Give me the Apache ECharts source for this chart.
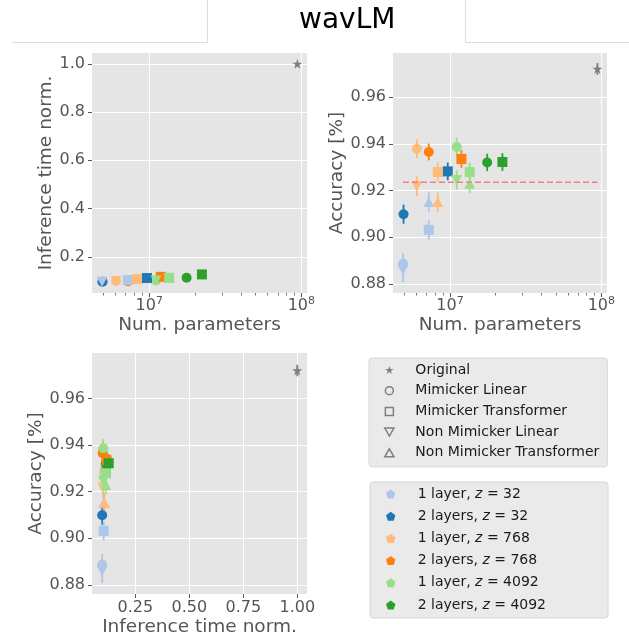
<!DOCTYPE html>
<html>
<head>
<meta charset="utf-8">
<title>wavLM</title>
<script src="https://cdn.jsdelivr.net/npm/echarts@6/dist/echarts.min.js"></script>
<style>
  html, body { margin: 0; padding: 0; background: #fff; }
  #chart { width: 629px; height: 643px; }
</style>
</head>
<body>
<div id="chart"></div>
<script>
// colour groups
const groupNames = ['1 layer, z = 32', '2 layers, z = 32', '1 layer, z = 768', '2 layers, z = 768', '1 layer, z = 4092', '2 layers, z = 4092'];
const groupColors = ['#aec7e8', '#1f77b4', '#ffbb78', '#ff7f0e', '#98df8a', '#2ca02c'];

// Mimicker Linear
const mlParams = [4.89e6, 4.93e6, 6.04e6, 7.24e6, 1.107e7, 1.76e7];
const mlTime = [0.097, 0.0966, 0.0995, 0.099, 0.102, 0.113];
const mlAcc = [0.8887, 0.9099, 0.9379, 0.9365, 0.9386, 0.9320];
const mlErr = [0.0046, 0.0041, 0.0040, 0.0036, 0.0040, 0.0037];

// Mimicker Transformer
const mtParams = [7.24e6, 9.66e6, 8.30e6, 1.19e7, 1.35e7, 2.22e7];
const mtTime = [0.1036, 0.112, 0.1077, 0.117, 0.113, 0.127];
const mtAcc = [0.9032, 0.9282, 0.9279, 0.9335, 0.9279, 0.9322];
const mtErr = [0.0042, 0.0038, 0.0040, 0.0038, 0.0040, 0.0038];

// Non Mimicker Linear (1 layer only)
const nlParams = [4.89e6, null, 6.04e6, null, 1.107e7, null];
const nlTime = [0.0966, null, 0.0995, null, 0.102, null];
const nlAcc = [0.8860, null, 0.9218, null, 0.9245, null];
const nlErr = [0.0052, null, 0.0042, null, 0.0042, null];

// Non Mimicker Transformer (1 layer only)
const ntParams = [7.24e6, null, 8.30e6, null, 1.35e7, null];
const ntTime = [0.1036, null, 0.1077, null, 0.113, null];
const ntAcc = [0.9151, null, 0.9151, null, 0.9229, null];
const ntErr = [0.0042, null, 0.0042, null, 0.0040, null];

// Original model
const origParams = 9.42e7;
const origTime = 1.0;
const origAcc = 0.972;
const origErr = 0.0025;

// dashed reference line
const baselineAcc = 0.9235;
const baselineFrom = 4.89e6;
const baselineTo = 9.42e7;

// ticks
const paramTicks = [1e7, 1e8];
const paramMinorTicks = [5e6, 6e6, 7e6, 8e6, 9e6, 2e7, 3e7, 4e7, 5e7, 6e7, 7e7, 8e7, 9e7];
const timeTicks = [0.2, 0.4, 0.6, 0.8, 1.0];
const timeXTicks = [0.25, 0.5, 0.75, 1.0];
const accTicks = [0.88, 0.90, 0.92, 0.94, 0.96];

const FONT = 'DejaVu Sans';
const GREY = '#555555';
const STAR = 'path://M100,0 L122.5,69.1 L195.1,69.1 L136.3,111.8 L158.8,180.9 L100,138.2 L41.2,180.9 L63.7,111.8 L4.9,69.1 L77.5,69.1 Z';
const PENTA = 'path://M100,0 L195.1,69.1 L158.8,180.9 L41.2,180.9 L4.9,69.1 Z';
const SQUARE = 'path://M0,0 L10,0 L10,10 L0,10 Z';
const TRI_DOWN = 'path://M0,0 L10,0 L5,8.66 Z';
const TRI_UP = 'path://M5,0 L10,8.66 L0,8.66 Z';

const types = [
  { name: 'Mimicker Linear', symbol: 'circle', size: 10, params: mlParams, time: mlTime, acc: mlAcc, err: mlErr },
  { name: 'Mimicker Transformer', symbol: 'rect', size: 10, params: mtParams, time: mtTime, acc: mtAcc, err: mtErr },
  { name: 'Non Mimicker Linear', symbol: TRI_DOWN, size: [11, 10], params: nlParams, time: nlTime, acc: nlAcc, err: nlErr },
  { name: 'Non Mimicker Transformer', symbol: TRI_UP, size: [11, 10], params: ntParams, time: ntTime, acc: ntAcc, err: ntErr }
];

// three panels: which values go on x / y
const panels = [
  { xAxisIndex: 0, yAxisIndex: 0, x: 'params', y: 'time', withErr: false },
  { xAxisIndex: 2, yAxisIndex: 1, x: 'params', y: 'acc', withErr: true },
  { xAxisIndex: 4, yAxisIndex: 2, x: 'time', y: 'acc', withErr: true }
];

function errSeries(p, data, color, id) {
  return {
    type: 'custom', id: id, xAxisIndex: p.xAxisIndex, yAxisIndex: p.yAxisIndex,
    silent: true, data: data,
    encode: { x: 0, y: 1 },
    renderItem: function (params, api) {
      const x = api.value(0), y = api.value(1), e = api.value(2);
      const a = api.coord([x, y - e]);
      const b = api.coord([x, y + e]);
      return { type: 'line', shape: { x1: a[0], y1: a[1], x2: b[0], y2: b[1] }, style: { stroke: color, lineWidth: 1.8 } };
    }
  };
}

const series = [];
panels.forEach(function (p, pi) {
  types.forEach(function (t, ti) {
    groupNames.forEach(function (g, gi) {
      if (t.params[gi] == null) return;
      const vals = { params: t.params[gi], time: t.time[gi], acc: t.acc[gi] };
      const x = vals[p.x], y = vals[p.y];
      if (p.withErr) series.push(errSeries(p, [[x, y, t.err[gi]]], groupColors[gi], 'e' + pi + ti + gi));
      series.push({
        type: 'scatter', id: 's' + pi + ti + gi, xAxisIndex: p.xAxisIndex, yAxisIndex: p.yAxisIndex,
        symbol: t.symbol, symbolSize: t.size, silent: true,
        itemStyle: { color: groupColors[gi], opacity: 1 },
        data: [[x, y]]
      });
    });
  });
  const ov = { params: origParams, time: origTime, acc: origAcc };
  if (p.withErr) series.push(errSeries(p, [[ov[p.x], ov[p.y], origErr]], '#7f7f7f', 'eo' + pi));
  series.push({
    type: 'scatter', id: 'o' + pi, xAxisIndex: p.xAxisIndex, yAxisIndex: p.yAxisIndex,
    symbol: STAR, symbolSize: 10, silent: true, itemStyle: { color: '#7f7f7f', opacity: 1 },
    data: [[ov[p.x], ov[p.y]]]
  });
});

series.push({
  type: 'line', xAxisIndex: 2, yAxisIndex: 1, symbol: 'none', silent: true,
  lineStyle: { color: '#f08080', width: 1.5, type: [6, 3] },
  data: [[baselineFrom, baselineAcc], [baselineTo, baselineAcc]]
});

// empty series only to feed the legends
const legendNames = ['Original'].concat(types.map(t => t.name), groupNames);
legendNames.forEach(function (n) {
  series.push({ type: 'scatter', name: n, xAxisIndex: 0, yAxisIndex: 0, data: [] });
});

const hollow = { color: 'rgba(0,0,0,0)', borderColor: '#7f7f7f', borderWidth: 1.5, opacity: 1 };
const legend1 = [
  { name: 'Original', icon: STAR, itemStyle: { color: '#7f7f7f', opacity: 1 } },
  { name: 'Mimicker Linear', icon: 'circle', itemStyle: hollow },
  { name: 'Mimicker Transformer', icon: SQUARE, itemStyle: hollow },
  { name: 'Non Mimicker Linear', icon: TRI_DOWN, itemStyle: hollow },
  { name: 'Non Mimicker Transformer', icon: TRI_UP, itemStyle: hollow }
];
const legend2 = groupNames.map((n, i) => ({ name: n, icon: PENTA, itemStyle: { color: groupColors[i], opacity: 1 } }));

function logLabel(v) {
  return '{b|10}{s|' + Math.round(Math.log10(v)) + '}';
}

function grid(left, top, w, h) {
  return { left: left, top: top, width: w, height: h, backgroundColor: '#e5e5e5', show: true, borderWidth: 0, outerBoundsMode: 'none' };
}

const tickLabel = { color: GREY, fontSize: 16, fontFamily: FONT };
const nameStyle = { color: GREY, fontSize: 18.5, fontFamily: FONT };

function valueAxis(gi, min, max, ticks, digits, name, gap, isY) {
  return {
    type: 'value', gridIndex: gi, min: min, max: max,
    name: name, nameLocation: 'middle', nameGap: gap, nameTextStyle: nameStyle,
    axisLine: { show: false },
    axisTick: { show: true, length: 4, customValues: ticks, lineStyle: { color: GREY, width: 1 } },
    axisLabel: Object.assign({ customValues: ticks, margin: isY ? 7 : 6, formatter: v => v.toFixed(digits) }, tickLabel),
    splitLine: { show: true, lineStyle: { color: '#ffffff', width: 1 } }
  };
}

function logAxis(gi, name) {
  return {
    type: 'log', logBase: 10, gridIndex: gi, min: 4.2e6, max: 1.09e8,
    name: name, nameLocation: 'middle', nameGap: 23, nameTextStyle: nameStyle,
    axisLine: { show: false },
    axisTick: { show: true, length: 4, customValues: paramTicks, lineStyle: { color: GREY, width: 1 } },
    axisLabel: {
      customValues: paramTicks, margin: 3, formatter: logLabel,
      rich: {
        b: { color: GREY, fontSize: 16, fontFamily: FONT },
        s: { color: GREY, fontSize: 11, fontFamily: FONT, padding: [0, 0, 9, 0] }
      }
    },
    splitLine: { show: true, lineStyle: { color: '#ffffff', width: 1 } }
  };
}

function minorAxis(gi) {
  return {
    type: 'log', logBase: 10, gridIndex: gi, min: 4.2e6, max: 1.09e8, position: 'bottom',
    axisLine: { show: false },
    axisTick: { show: true, length: 2.5, customValues: paramMinorTicks, lineStyle: { color: GREY, width: 0.8 } },
    axisLabel: { show: false },
    splitLine: { show: false }
  };
}

const option = {
  animation: false,
  textStyle: { fontFamily: FONT },
  title: {
    text: 'wavLM', left: 294, top: 2,
    textStyle: { fontSize: 28, fontWeight: 'normal', color: '#000', fontFamily: FONT }
  },
  graphic: [
    { type: 'polyline', silent: true, shape: { points: [[12, 42.5], [207.5, 42.5], [207.5, 0]] }, style: { stroke: '#dddddd', lineWidth: 1, fill: null } },
    { type: 'polyline', silent: true, shape: { points: [[465.5, 0], [465.5, 42.5], [629, 42.5]] }, style: { stroke: '#dddddd', lineWidth: 1, fill: null } }
  ],
  legend: [
    {
      orient: 'vertical', left: 369, top: 358, selectedMode: false,
      itemWidth: 20, itemHeight: 8, itemGap: 4.7,
      padding: [4, 8, 6, 15],
      backgroundColor: '#eaeaea', borderColor: '#d6d6d6', borderWidth: 1, borderRadius: 3,
      textStyle: { color: '#1a1a1a', fontSize: 14, fontFamily: FONT, lineHeight: 16, padding: [0, 0, 0, 11] },
      data: legend1
    },
    {
      orient: 'vertical', left: 370, top: 482, selectedMode: false,
      itemWidth: 20, itemHeight: 9, itemGap: 6.2,
      padding: [4, 62, 5, 16],
      backgroundColor: '#eaeaea', borderColor: '#d6d6d6', borderWidth: 1, borderRadius: 3,
      textStyle: {
        color: '#1a1a1a', fontSize: 14, fontFamily: FONT, lineHeight: 16, padding: [0, 0, 0, 12],
        rich: {
          t: { color: '#1a1a1a', fontSize: 14, fontFamily: FONT, lineHeight: 16 },
          i: { color: '#1a1a1a', fontSize: 14, fontFamily: FONT, lineHeight: 16, fontStyle: 'italic' }
        }
      },
      formatter: function (name) {
        const parts = name.split('z = ');
        return '{t|' + parts[0] + '}{i|z}{t| = ' + parts[1] + '}';
      },
      data: legend2
    }
  ],
  grid: [
    grid(92, 53, 215, 240),
    grid(393, 53, 214, 240),
    grid(92, 353, 215, 241)
  ],
  xAxis: [
    logAxis(0, 'Num. parameters'),
    minorAxis(0),
    logAxis(1, 'Num. parameters'),
    minorAxis(1),
    valueAxis(2, 0.0495, 1.045, timeXTicks, 2, 'Inference time norm.', 24, false)
  ],
  yAxis: [
    valueAxis(0, 0.05, 1.045, timeTicks, 1, 'Inference time norm.', 35, true),
    valueAxis(1, 0.8762, 0.9788, accTicks, 2, 'Accuracy [%]', 46, true),
    valueAxis(2, 0.8761, 0.9795, accTicks, 2, 'Accuracy [%]', 45, true)
  ],
  series: series
};

const chart = echarts.init(document.getElementById('chart'), null, { renderer: 'canvas' });
chart.setOption(option);
</script>
</body>
</html>
